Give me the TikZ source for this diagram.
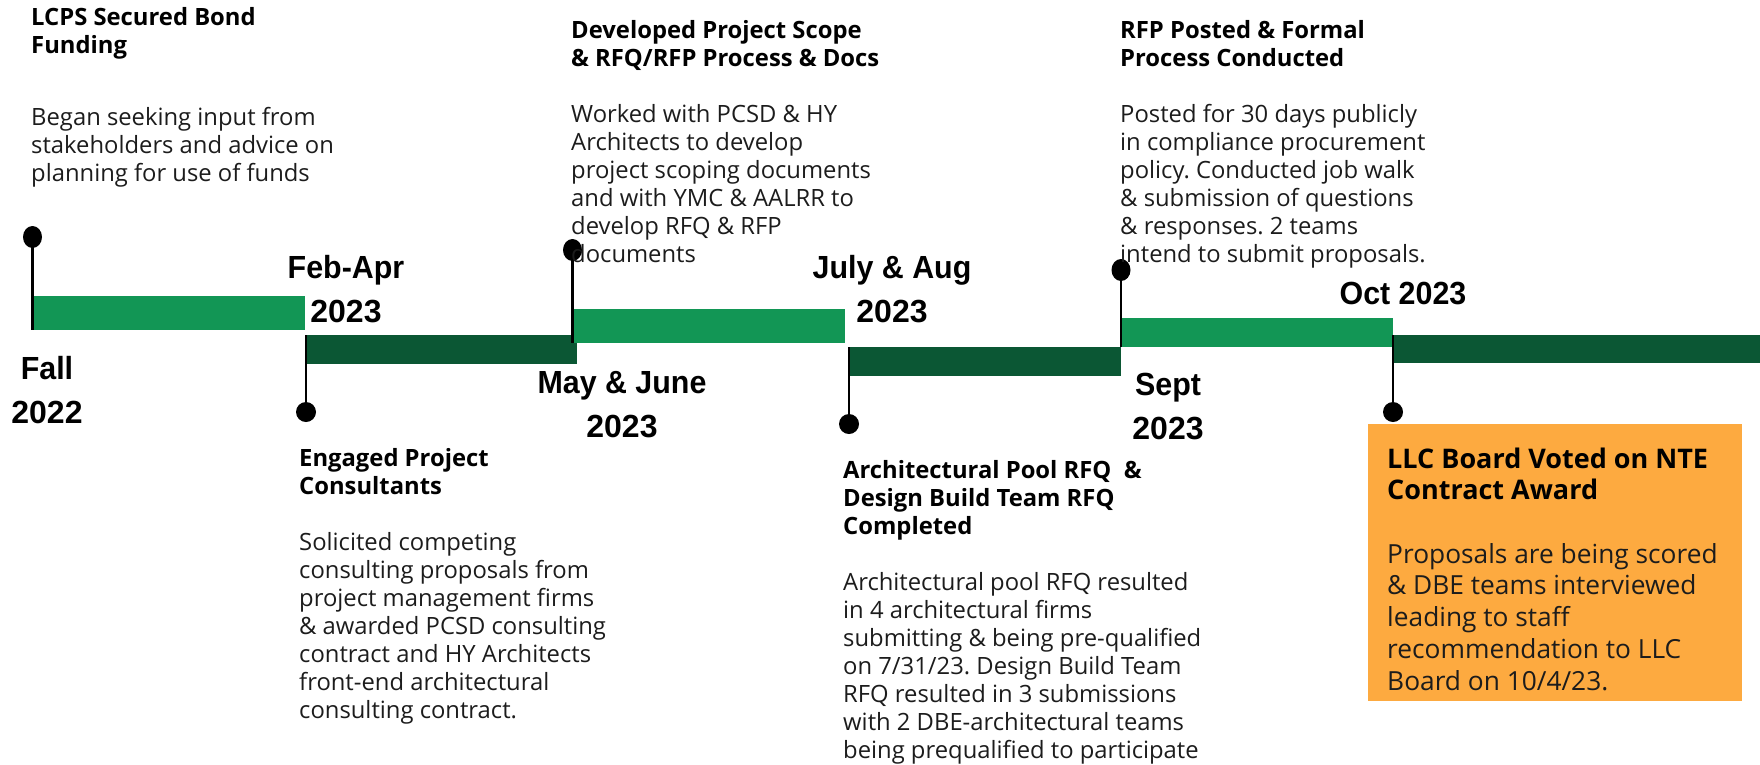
\documentclass[tikz,border=0pt]{standalone}
\usepackage{fontspec}
\usetikzlibrary{shapes.geometric}
\setmainfont{Open Sans}
\newfontfamily\datefont{Liberation Sans}[FakeStretch=0.95]
\newfontfamily\yearfont{Liberation Sans}
\definecolor{barlight}{HTML}{129655}
\definecolor{bardark}{HTML}{0B5734}
\definecolor{notebox}{HTML}{FDAA40}
\definecolor{bodyink}{HTML}{1C1C1C}
\frenchspacing
% left-aligned block of lines; reference point = first baseline
\newcommand\linesblock[1]{\vtop{\hsize=520pt\parindent=0pt\raggedright #1}}
% centred two-line date label (month line, year line)
\newcommand\datestack[2]{\vtop{\halign{\hfil##\hfil\cr #1\cr {\yearfont\bfseries #2}\cr}}}
\tikzset{
  heading/.style={anchor=base west, inner sep=0pt, text=black,
    font=\fontsize{23.8}{28}\selectfont\bfseries},
  bodytext/.style={anchor=base west, inner sep=0pt, text=bodyink,
    font=\fontsize{23.8}{28}\selectfont},
  datelabel/.style={anchor=base, inner sep=0pt, text=black,
    font=\datefont\fontsize{32}{44}\selectfont\bfseries},
  bar/.style={anchor=north west, inner sep=0pt, draw=none},
  topdot/.style={ellipse, fill=black, inner sep=0pt, minimum width=19pt, minimum height=22pt},
  botdot/.style={circle, fill=black, inner sep=0pt, minimum size=20pt},
  pin/.style={line width=2.4pt, black},
}
\begin{document}
\begin{tikzpicture}[x=1pt, y=-1pt]
\useasboundingbox (0,0) rectangle (1760,764);

% timeline segments
\node[bar, fill=barlight, minimum width=272.5pt, minimum height=34pt] (bar1) at (32.5,296) {};
\node[bar, fill=bardark,  minimum width=271pt,   minimum height=29pt] (bar2) at (306,335) {};
\node[bar, fill=barlight, minimum width=272.5pt, minimum height=34pt] (bar3) at (572.5,309) {};
\node[bar, fill=bardark,  minimum width=272pt,   minimum height=29pt] (bar4) at (849,347) {};
\node[bar, fill=barlight, minimum width=271.5pt, minimum height=29pt] (bar5) at (1121,318) {};
\node[bar, fill=bardark,  minimum width=367.5pt, minimum height=28pt] (bar6) at (1392.5,335) {};

% pins
\node[topdot] (d1) at (32.5,237) {};
\node[botdot] (d2) at (306,412) {};
\node[topdot] (d3) at (572.5,250) {};
\node[botdot] (d4) at (849,424) {};
\node[topdot] (d5) at (1121,270) {};
\node[botdot] (d6) at (1393,412) {};
\draw[pin] (d1.center) -- (d1 |- bar1.south);
\draw[pin] (d2.center) -- (d2 |- bar2.north);
\draw[pin] (d3.center) -- (d3 |- bar3.south);
\draw[pin] (d4.center) -- (d4 |- bar4.north);
\draw[pin] (d5.center) -- (d5 |- bar5.south);
\draw[pin] (d6.center) -- (d6 |- bar6.north);

% date labels
\node[datelabel] (date1) at (47,379)   {\datestack{Fall}{2022}};
\node[datelabel] (date2) at (346,278)  {\datestack{Feb-Apr}{2023}};
\node[datelabel] (date3) at (622,393)  {\datestack{May \& June}{2023}};
\node[datelabel] (date4) at (892,278)  {\datestack{July \& Aug}{2023}};
\node[datelabel] (date5) at (1168,395) {\datestack{Sept}{2023}};
\node[datelabel] (date6) at (1403,304) {Oct 2023};

% milestone texts
\node[heading] (t1) at (31,25) {\linesblock{LCPS Secured Bond\\Funding}};
\node[bodytext] (b1) at (31,125) {\linesblock{Began seeking input from\\stakeholders and advice on\\planning for use of funds}};

\node[heading] (t2) at (299,466) {\linesblock{Engaged Project\\Consultants}};
\node[bodytext] (b2) at (299,550) {\linesblock{Solicited competing\\consulting proposals from\\project management firms\\\& awarded PCSD consulting\\contract and HY Architects\\front-end architectural\\consulting contract.}};

\node[heading] (t3) at (571,38) {\linesblock{Developed Project Scope\\\& RFQ/RFP Process \& Docs}};
\node[bodytext] (b3) at (571,122) {\linesblock{Worked with PCSD \& HY\\Architects to develop\\project scoping documents\\and with YMC \& AALRR to\\develop RFQ \& RFP\\documents}};

\node[heading] (t4) at (843,478) {\linesblock{Architectural Pool RFQ\ \ \&\\Design Build Team RFQ\\Completed}};
\node[bodytext] (b4) at (843,590) {\linesblock{Architectural pool RFQ resulted\\in 4 architectural firms\\submitting \& being pre-qualified\\on 7/31/23. Design Build Team\\RFQ resulted in 3 submissions\\with 2 DBE-architectural teams\\being prequalified to participate}};

\node[heading] (t5) at (1120,38) {\linesblock{RFP Posted \& Formal\\Process Conducted}};
\node[bodytext] (b5) at (1120,122) {\linesblock{Posted for 30 days publicly\\in compliance procurement\\policy. Conducted job walk\\\& submission of questions\\\& responses. 2 teams\\intend to submit proposals.}};

% highlighted final milestone
\fill[notebox] (1368,424) rectangle (1742,701);
\node[heading, font=\fontsize{27}{31}\selectfont\bfseries] (t6) at (1387,468) {\linesblock{LLC Board Voted on NTE\\Contract Award}};
\node[bodytext, font=\fontsize{26.3}{31.8}\selectfont] (b6) at (1387,563) {\linesblock{Proposals are being scored\\\& DBE teams interviewed\\leading to staff\\recommendation to LLC\\Board on 10/4/23.}};
\end{tikzpicture}
\end{document}
